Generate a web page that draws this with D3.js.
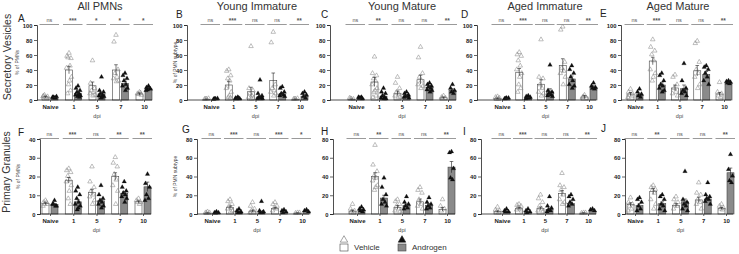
<!DOCTYPE html>
<html>
<head>
<meta charset="utf-8">
<script src="https://cdn.jsdelivr.net/npm/d3@7"></script>
<style>
  body { margin: 0; background: #fff; }
  text { font-family: "Liberation Sans", Arial, sans-serif; }
</style>
</head>
<body>
<script>
// categories and labels
const categories = ["Naive", "1", "5", "7", "10"];
const panelIds = ["A", "B", "C", "D", "E", "F", "G", "H", "I", "J"];
const columnTitles = ["All PMNs", "Young Immature", "Young Mature", "Aged Immature", "Aged Mature"];
const rowTitles = ["Secretory Vesicles", "Primary Granules"];
const yMaxes = [100, 100, 100, 100, 100, 40, 80, 80, 80, 80];
const yTicksTop = [0, 20, 40, 60, 80, 100];
const yTicksF = [0, 10, 20, 30, 40];
const yTicksBottom = [0, 20, 40, 60, 80];
const yLabels = ["% of PMNs", "% of PMN subtype", "", "", "", "% of PMNs", "% of PMN subtype", "", "", ""];

// bar heights (mean) per panel, per dpi
const vehMean = [
  [4, 40, 19, 40, 8],
  [1, 20, 11, 26, 1],
  [1, 24, 9, 27, 3],
  [2, 37, 21, 46, 4],
  [8, 52, 16, 39, 8],
  [5.5, 18, 11.5, 20, 6.5],
  [1, 7, 3, 6, 1],
  [3, 40, 7, 13, 5],
  [2.5, 6, 6, 22, 1],
  [10, 24, 9, 15, 6]
];
const andMean = [
  [3, 9, 8, 22, 15],
  [1, 2, 4, 8, 5],
  [2, 5, 5, 17, 13],
  [1.5, 3, 11, 28, 17],
  [7, 20, 15, 34, 23],
  [5, 6.5, 7, 11, 14.5],
  [1, 2, 2, 2, 2.5],
  [4, 17, 9, 9, 50],
  [2.5, 2, 5, 11, 3],
  [9, 11, 13, 16, 44]
];
const vehSem = [
  [1, 5, 5, 7, 1.5],
  [0.3, 5, 6, 10, 0.3],
  [0.3, 6, 3, 6, 1],
  [0.5, 5, 6, 9, 2],
  [2, 5, 4, 7, 2],
  [0.5, 1.5, 1.5, 2, 0.5],
  [0.3, 1.5, 1, 1, 0.3],
  [1, 4, 2, 3, 2],
  [0.7, 1, 1.5, 3, 0.3],
  [2, 3, 2, 3, 1]
];
const andSem = [
  [0.5, 2, 2, 3, 1.5],
  [0.3, 0.5, 2, 2, 1.5],
  [0.3, 1.5, 1, 2, 2],
  [0.3, 0.5, 4, 4, 2],
  [2, 3, 5, 4, 1],
  [0.5, 1.2, 1, 1, 2.5],
  [0.3, 0.5, 1, 0.5, 0.5],
  [1, 3, 1.5, 2, 6],
  [0.5, 0.5, 1, 1.5, 0.5],
  [2, 2, 3, 2, 5]
];
const sigLabels = [
  ["ns", "***", "*", "*", "*"],
  ["ns", "***", "ns", "ns", "**"],
  ["ns", "**", "ns", "ns", "**"],
  ["ns", "***", "ns", "ns", "**"],
  ["ns", "***", "ns", "ns", "**"],
  ["ns", "***", "ns", "**", "**"],
  ["ns", "***", "ns", "***", "*"],
  ["ns", "**", "ns", "ns", "**"],
  ["ns", "***", "ns", "ns", "**"],
  ["ns", "**", "ns", "ns", "**"]
];

// individual animals
const vehPts = [
  [[3, 5, 4, 6, 2, 4], [62, 58, 55, 56, 45, 42, 30, 25, 20, 12, 8], [52, 22, 15, 12, 10, 8, 6, 5], [86, 77, 40, 35, 30, 28, 25, 24], [10, 8, 6, 7, 9]],
  [[1, 0.5, 1.5, 1], [40, 38, 32, 28, 25, 15, 10, 5, 3, 2], [71, 15, 12, 8, 5, 3, 2, 1], [90, 76, 20, 15, 12, 10, 8, 5], [1, 0.5, 1.5, 1]],
  [[1, 2, 0.5, 1.5], [57, 35, 32, 28, 25, 20, 15, 12, 10, 5, 3], [30, 22, 15, 10, 8, 5, 3, 2], [70, 56, 35, 30, 25, 20, 18, 15], [5, 3, 2, 2]],
  [[4, 3, 2, 1, 1], [63, 60, 58, 52, 45, 40, 35, 30, 20, 15, 10], [80, 30, 28, 20, 15, 10, 8, 5], [97, 93, 50, 42, 38, 35, 30, 20], [6, 3, 2, 4]],
  [[14, 10, 8, 6, 4, 3], [80, 70, 65, 60, 52, 40, 35, 30, 25], [33, 30, 20, 15, 10, 8, 5], [78, 75, 50, 40, 35, 30, 20, 15], [23, 10, 8, 5, 3]],
  [[7, 6, 5, 5, 6, 4], [24, 23, 22, 20, 18, 17, 15, 12, 8, 5], [25, 17, 14, 12, 10, 9, 7, 5], [30, 27, 25, 21, 18, 15, 12, 5], [8, 7, 6, 6, 5]],
  [[2, 1, 1, 0.5], [15, 13, 10, 8, 6, 5, 3, 2], [12, 8, 5, 3, 2, 1], [12, 10, 8, 6, 5, 3], [1, 0.5, 1]],
  [[10, 5, 3, 2, 1], [73, 52, 45, 40, 38, 35, 30, 28, 25], [15, 13, 10, 8, 5, 3, 2], [28, 25, 22, 15, 10, 8, 5], [15, 8, 5, 3]],
  [[7, 4, 3, 2, 1], [10, 9, 8, 6, 5, 4, 3], [20, 16, 12, 8, 5, 3, 2], [43, 30, 28, 25, 20, 15, 12, 10], [1, 0.5, 1]],
  [[17, 12, 10, 8, 5, 3], [30, 28, 26, 25, 22, 15, 10, 5], [18, 15, 12, 10, 8, 5], [33, 22, 20, 15, 12, 10, 5], [10, 8, 6, 5, 4]]
];
const andPts = [
  [[2, 3, 4, 3, 2], [18, 15, 12, 10, 8, 6, 5, 5, 4, 3], [30, 12, 10, 8, 6, 5, 4, 3, 2], [35, 32, 28, 25, 20, 18, 15, 12], [18, 16, 14, 13, 15, 12]],
  [[1, 0.5, 1.5, 1], [3, 2, 1, 1, 2, 1], [26, 8, 5, 3, 2, 1, 1], [17, 15, 10, 8, 6, 5, 4], [10, 8, 6, 4, 2]],
  [[2, 3, 1, 2, 3], [15, 10, 8, 5, 3, 2, 1, 1], [10, 8, 6, 5, 4, 3, 2], [22, 20, 18, 17, 15, 13, 12, 10], [20, 15, 12, 10, 8]],
  [[2, 1, 2, 1.5], [5, 4, 3, 2, 2, 1], [46, 12, 10, 8, 6, 5, 4], [45, 40, 35, 30, 25, 20, 18, 15], [22, 18, 16, 15, 14]],
  [[14, 10, 7, 5, 3], [35, 32, 25, 20, 18, 15, 12, 10], [48, 25, 15, 12, 10, 8, 5], [45, 43, 40, 35, 30, 25, 20], [25, 24, 23, 22, 21]],
  [[7, 5, 4, 5, 4], [14, 12, 10, 8, 6, 5, 4, 3, 2], [15, 10, 8, 7, 6, 5, 4, 3], [17, 14, 12, 11, 10, 9, 8, 6], [21, 16, 14, 10, 8, 7]],
  [[2, 1, 1, 0.5], [5, 3, 2, 1, 1], [13, 3, 2, 1, 1], [4, 3, 2, 1], [4, 3, 2]],
  [[7, 5, 4, 3, 2], [38, 28, 20, 15, 12, 10, 8], [18, 12, 10, 8, 6, 5], [17, 12, 10, 8, 6, 5], [66, 65, 48, 38, 36]],
  [[5, 3, 2, 2], [5, 3, 2, 1], [18, 8, 6, 4, 3, 2], [20, 18, 15, 12, 10, 8], [5, 4, 3]],
  [[17, 15, 12, 8, 5, 3], [20, 18, 15, 10, 8, 5, 3], [45, 15, 12, 10, 8, 5, 3], [33, 20, 18, 16, 15, 13, 10], [63, 47, 40, 35, 33]]
];

// layout
const W = 739, H = 254;
const rowY = [[100, 25], [214, 139]];
const panelLayout = [
  { x0: 37, c0: 50, c4: 144, end: 152, lx: 18, ly: 22, yl: 19 },
  { x0: 187, c0: 211, c4: 300, end: 308, lx: 176, ly: 18, yl: 177 },
  { x0: 330, c0: 356, c4: 448, end: 456, lx: 321, ly: 18 },
  { x0: 477, c0: 502, c4: 589, end: 596, lx: 461, ly: 18 },
  { x0: 621, c0: 635, c4: 724, end: 731, lx: 600, ly: 17 },
  { x0: 40, c0: 50, c4: 143, end: 151, lx: 18, ly: 136, yl: 20 },
  { x0: 197, c0: 212, c4: 302, end: 309, lx: 182, ly: 133, yl: 177 },
  { x0: 333, c0: 357, c4: 447, end: 455, lx: 321, ly: 135 },
  { x0: 481, c0: 502, c4: 588, end: 596, lx: 463, ly: 135 },
  { x0: 625, c0: 635, c4: 726, end: 733, lx: 601, ly: 132 }
];
const titleX = [100, 257, 402, 545, 678];
const barW = 7, barOff = 4.5;
const jitter = [0, -2, 2, -1, 1, -2.5, 2.5, 0.5, -0.5, 1.5, -1.5];

const svg = d3.select("body").append("svg")
  .attr("width", W)
  .attr("height", H);

// column titles
svg.selectAll(".col-title").data(columnTitles).join("text")
  .attr("x", (d, i) => titleX[i])
  .attr("y", 10)
  .attr("text-anchor", "middle")
  .style("font-size", "11px")
  .style("fill", "#333")
  .text(d => d);

// row titles
svg.selectAll(".row-title").data(rowTitles).join("text")
  .attr("transform", (d, i) => `translate(${i === 0 ? 11 : 10},${i === 0 ? 57 : 172}) rotate(-90)`)
  .attr("text-anchor", "middle")
  .style("font-size", "10.5px")
  .style("fill", "#333")
  .text(d => d);

const tri = d3.symbol(d3.symbolTriangle).size(9);

panelIds.forEach((id, i) => {
  const row = i < 5 ? 0 : 1;
  const lay = panelLayout[i];
  const ticks = i < 5 ? yTicksTop : (i === 5 ? yTicksF : yTicksBottom);
  const y = d3.scaleLinear().domain([0, yMaxes[i]]).range(rowY[row]);
  const x = d3.scalePoint().domain(categories).range([lay.c0, lay.c4]);
  const g = svg.append("g").attr("class", "panel-" + id);

  const series = [
    { mean: vehMean[i], sem: vehSem[i], pts: vehPts[i], off: -barOff, fill: "#fff", open: true },
    { mean: andMean[i], sem: andSem[i], pts: andPts[i], off: barOff, fill: "#8a8a8a", open: false }
  ];

  series.forEach(s => {
    // bars
    g.selectAll(null).data(categories).join("rect")
      .attr("x", (d, k) => x(d) + s.off - barW / 2)
      .attr("y", (d, k) => y(s.mean[k]))
      .attr("width", barW)
      .attr("height", (d, k) => y(0) - y(s.mean[k]))
      .attr("fill", s.fill)
      .attr("stroke", "#444")
      .attr("stroke-width", 0.6);

    // points
    categories.forEach((c, k) => {
      g.selectAll(null).data(s.pts[k]).join("path")
        .attr("d", tri)
        .attr("transform", (v, j) => `translate(${x(c) + s.off + jitter[j % jitter.length]},${y(v) - 0.5})`)
        .attr("fill", s.open ? "none" : "#111")
        .attr("stroke", s.open ? "#8a8a8a" : "#111")
        .attr("stroke-width", s.open ? 0.55 : 0.2);
    });

    // error bars
    categories.forEach((c, k) => {
      const cx = x(c) + s.off;
      const lo = Math.max(0, s.mean[k] - s.sem[k]);
      const hi = s.mean[k] + s.sem[k];
      g.append("line")
        .attr("x1", cx).attr("x2", cx)
        .attr("y1", y(lo)).attr("y2", y(hi))
        .attr("stroke", "#222").attr("stroke-width", 0.6);
      g.append("line")
        .attr("x1", cx - 1.8).attr("x2", cx + 1.8)
        .attr("y1", y(hi)).attr("y2", y(hi))
        .attr("stroke", "#222").attr("stroke-width", 0.6);
    });
  });

  // y axis
  const yAxis = g.append("g")
    .attr("transform", `translate(${lay.x0},0)`)
    .call(d3.axisLeft(y).tickValues(ticks).tickSize(3).tickPadding(1.5));
  yAxis.select(".domain").attr("stroke", "#222").attr("stroke-width", 0.8);
  yAxis.selectAll(".tick line").attr("stroke", "#222").attr("stroke-width", 0.7);
  yAxis.selectAll("text")
    .style("font-size", "5.8px")
    .style("font-weight", "bold")
    .style("fill", "#222")
    .attr("dy", "0.35em");

  // x axis
  g.append("line")
    .attr("x1", lay.x0).attr("x2", lay.end)
    .attr("y1", y(0)).attr("y2", y(0))
    .attr("stroke", "#222").attr("stroke-width", 0.8);
  const xAxis = g.append("g")
    .attr("transform", `translate(0,${y(0)})`)
    .call(d3.axisBottom(x).tickSize(2).tickPadding(2.5));
  xAxis.select(".domain").remove();
  xAxis.selectAll(".tick line").attr("stroke", "#222").attr("stroke-width", 0.7);
  xAxis.selectAll("text")
    .style("font-size", "6px")
    .style("font-weight", "bold")
    .style("fill", "#222");

  g.append("text")
    .attr("x", (lay.c0 + lay.c4) / 2)
    .attr("y", y(0) + 18)
    .attr("text-anchor", "middle")
    .style("font-size", "5.5px")
    .style("fill", "#444")
    .text("dpi");

  // significance bars
  const sigY = y(yMaxes[i]) - 0.5;
  categories.forEach((c, k) => {
    g.append("line")
      .attr("x1", x(c) - 10.5).attr("x2", x(c) + 9)
      .attr("y1", sigY).attr("y2", sigY)
      .attr("stroke", "#8f8f8f").attr("stroke-width", 0.9);
    g.append("text")
      .attr("x", x(c) - 0.7)
      .attr("y", sigY - (sigLabels[i][k] === "ns" ? 3 : 1.8))
      .attr("text-anchor", "middle")
      .style("font-size", sigLabels[i][k] === "ns" ? "5.5px" : "6.5px")
      .style("font-weight", sigLabels[i][k] === "ns" ? "normal" : "bold")
      .style("fill", "#555")
      .text(sigLabels[i][k]);
  });

  // panel letter
  g.append("text")
    .attr("x", lay.lx).attr("y", lay.ly)
    .style("font-size", "10px")
    .style("fill", "#222")
    .text(id);

  // y label
  if (yLabels[i]) {
    g.append("text")
      .attr("transform", `translate(${lay.yl},${(y(0) + y(yMaxes[i])) / 2}) rotate(-90)`)
      .attr("text-anchor", "middle")
      .style("font-size", "5px")
      .style("fill", "#444")
      .text(yLabels[i]);
  }
});

// legend
const legendItems = ["Vehicle", "Androgen"];
const legendFill = ["#fff", "#8a8a8a"];
const legendX = [344, 402];
const leg = svg.append("g");
legendItems.forEach((name, i) => {
  const lx = legendX[i];
  leg.append("rect")
    .attr("x", lx - 4).attr("y", 244)
    .attr("width", 8).attr("height", 7)
    .attr("fill", legendFill[i]).attr("stroke", "#444").attr("stroke-width", 0.6);
  leg.append("path")
    .attr("d", d3.symbol(d3.symbolTriangle).size(24))
    .attr("transform", `translate(${lx},240)`)
    .attr("fill", i === 0 ? "none" : "#111")
    .attr("stroke", i === 0 ? "#666" : "#111")
    .attr("stroke-width", 0.6);
  leg.append("text")
    .attr("x", lx + 10).attr("y", 250)
    .style("font-size", "8px")
    .style("fill", "#333")
    .text(name);
});
</script>
</body>
</html>
